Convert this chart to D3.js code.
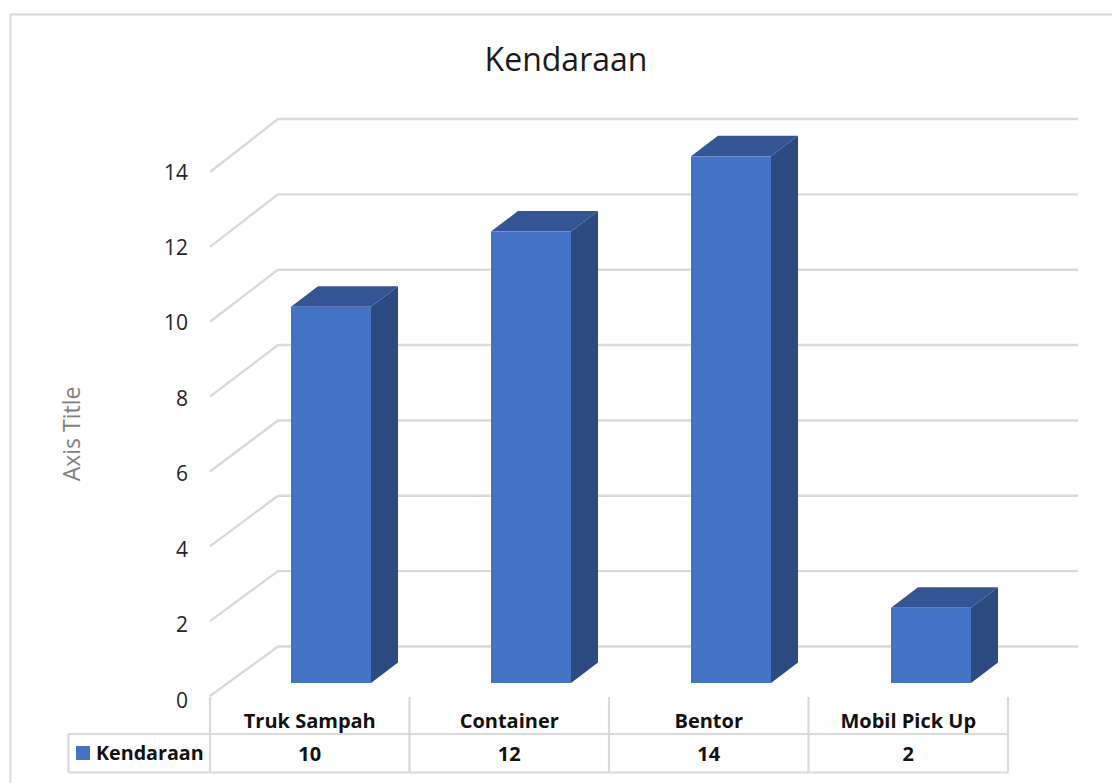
<!DOCTYPE html>
<html><head><meta charset="utf-8">
<script src="https://cdn.jsdelivr.net/npm/d3@7/dist/d3.min.js"></script>
<style>html,body{margin:0;padding:0;background:#fff}svg{display:block}text{font-family:"Open Sans","Noto Sans",sans-serif}</style>
</head><body><svg id="c" width="1112" height="783"></svg>
<script>
const categories = ["Truk Sampah","Container","Bentor","Mobil Pick Up"];
const seriesName = "Kendaraan";
const values = [10,12,14,2];
const yTicks = [0,2,4,6,8,10,12,14];
const gridValues = [2,4,6,8,10,12,14];
const titleText = "Kendaraan";
const axisTitle = "Axis Title";

const svg = d3.select("#c");
const GRID="#d9d9d9", FRONT="#4472c4", TOP="#335593", SIDE="#2a4a80";
const x = d3.scaleBand().domain(categories).range([210,1008]).paddingInner(0).paddingOuter(0);
const xBar = d3.scaleBand().domain(categories).range([291,1091]).paddingInner(0).paddingOuter(0);
const yFront = d3.scaleLinear().domain([0,14]).range([696,172]);
const yBack  = d3.scaleLinear().domain([0,14]).range([646.5,119]);
const yBar   = d3.scaleLinear().domain([0,14]).range([683,156.3]);
const yLabel = d3.scaleLinear().domain([0,14]).range([707.5,179.5]);
const backX0=278, backX1=1078, barW=80, dx=27, dy=20.5;

// frame
svg.append("path").attr("d","M10.5,783V14.5H1112").attr("fill","none").attr("stroke",GRID).attr("stroke-width",2);

// title
svg.append("text").attr("x",566).attr("y",71).attr("text-anchor","middle").attr("font-size",32).attr("fill","#1a1a1a").text(titleText);
svg.append("text").attr("transform","translate(80,434) rotate(-90)").attr("text-anchor","middle").attr("font-size",23).attr("fill","#7f7f7f").text(axisTitle);

// grid walls
const grid = svg.append("g").attr("fill","none").attr("stroke",GRID).attr("stroke-width",2.4);
[0,...gridValues].forEach(v=>{
  grid.append("path").attr("d",`M210,${yFront(v)}L${backX0},${yBack(v)}H${backX1}`);
});

// y labels
svg.append("g").selectAll("text").data(yTicks).join("text")
  .attr("x",188).attr("y",d=>yLabel(d)).attr("text-anchor","end")
  .attr("font-size",21).attr("fill","#262626").text(d=>d);

// bars
const bars = svg.append("g").selectAll("g").data(categories.map((c,i)=>({c,v:values[i]}))).join("g");
bars.append("path").attr("fill",SIDE).attr("d",d=>{
  const l=xBar(d.c)+barW,t=yBar(d.v),b=yBar(0);
  return `M${l},${t}L${l+dx},${t-dy}V${b-dy}L${l},${b}Z`;
});
bars.append("path").attr("fill",TOP).attr("d",d=>{
  const l=xBar(d.c),t=yBar(d.v);
  return `M${l},${t}L${l+dx},${t-dy}H${l+dx+barW}L${l+barW},${t}Z`;
});
bars.append("rect").attr("fill",FRONT).attr("x",d=>xBar(d.c)).attr("y",d=>yBar(d.v)).attr("width",barW).attr("height",d=>yBar(0)-yBar(d.v));

// data table
const tblTop=734, tblBot=772.5, tblLeft=68.5, tickTop=697;
const tbl = svg.append("g").attr("stroke",GRID).attr("stroke-width",2.2).attr("fill","none");
tbl.append("path").attr("d",`M${tblLeft},${tblTop}H1008M${tblLeft},${tblBot}H1008M${tblLeft},${tblTop}V${tblBot}`);
[...categories.map(c=>x(c)),1008].forEach(p=>{
  tbl.append("line").attr("x1",p).attr("x2",p).attr("y1",tickTop).attr("y2",tblBot);
});
const cellText = svg.append("g").attr("text-anchor","middle").attr("font-size",20).attr("font-weight",700).attr("fill","#111");
cellText.selectAll(".cat").data(categories).join("text").attr("class","cat")
  .attr("x",d=>x(d)+x.bandwidth()/2).attr("y",728).text(d=>d);
cellText.selectAll(".val").data(values).join("text").attr("class","val")
  .attr("x",(d,i)=>x(categories[i])+x.bandwidth()/2).attr("y",761).text(d=>d);
svg.append("rect").attr("x",76).attr("y",746).attr("width",14).attr("height",14).attr("fill",FRONT);
svg.append("text").attr("x",96).attr("y",760).attr("font-size",19.7).attr("font-weight",700).attr("fill","#111").text(seriesName);
</script></body></html>
